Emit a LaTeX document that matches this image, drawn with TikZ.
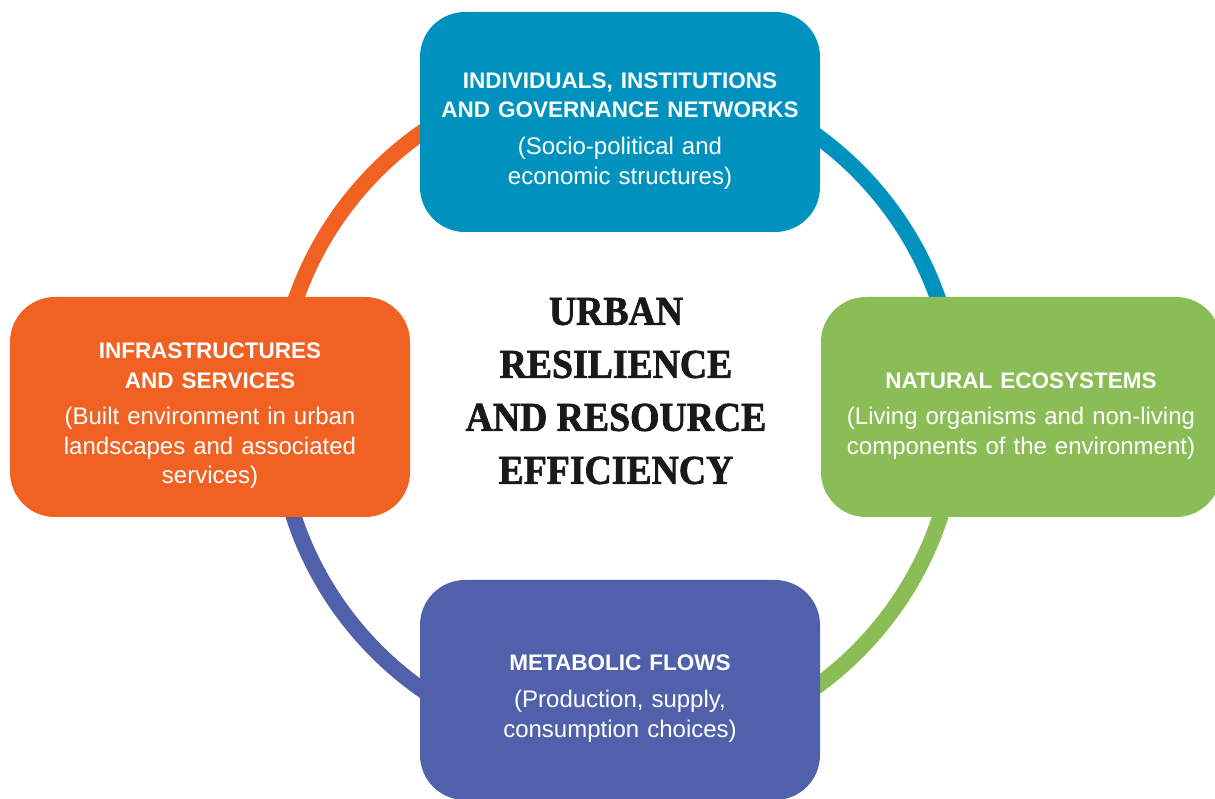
\documentclass[tikz,border=0pt]{standalone}
\usepackage{fontspec}
\setmainfont{Liberation Sans}
\newfontfamily\titlefont[FakeStretch=0.92, BoldFeatures={FakeBold=1.6}]{Liberation Serif}

\definecolor{govblue}{RGB}{0,146,190}
\definecolor{infraorange}{RGB}{241,97,34}
\definecolor{natgreen}{RGB}{139,189,87}
\definecolor{flowpurple}{RGB}{81,96,171}

\newcommand{\pillarhead}[1]{{\fontsize{22.5}{29.5}\selectfont\bfseries #1}}

\begin{document}
\begin{tikzpicture}[x=1pt, y=1pt,
  pillar/.style={rounded corners=45pt, text width=400pt, minimum height=220pt,
    inner sep=0pt, text=white, align=center,
    font=\fontsize{24}{29.5}\selectfont,
    execute at begin node={\rule{0pt}{33pt}}},
  ring/.style={line width=16pt}]
  \useasboundingbox (0,0) rectangle (1215,798);

  % the ring, one quarter per colour
  \coordinate (c) at (617,387);
  \draw[ring, govblue] ([shift={(0:340)}]c) arc [start angle=0, end angle=90, radius=340];
  \draw[ring, infraorange] ([shift={(90:340)}]c) arc [start angle=90, end angle=180, radius=340];
  \draw[ring, flowpurple] ([shift={(180:340)}]c) arc [start angle=180, end angle=270, radius=340];
  \draw[ring, natgreen] ([shift={(270:340)}]c) arc [start angle=270, end angle=360, radius=340];

  \node[pillar, fill=govblue] (gov) at (620,676)
    {\pillarhead{INDIVIDUALS, INSTITUTIONS\\AND GOVERNANCE NETWORKS}\\[7.5pt]
     (Socio-political and\\economic structures)};
  \node[pillar, fill=infraorange] (infra) at (210,391)
    {\pillarhead{INFRASTRUCTURES\\AND SERVICES}\\[7pt]
     (Built environment in urban\\landscapes and associated\\services)};
  \node[pillar, fill=natgreen] (nature) at (1021,391)
    {\pillarhead{NATURAL ECOSYSTEMS}\\[7pt]
     (Living organisms and non-living\\components of the environment)};
  \node[pillar, fill=flowpurple] (flows) at (620,108)
    {\pillarhead{METABOLIC FLOWS}\\[7.5pt]
     (Production, supply,\\consumption choices)};

  \node[align=center, text=black!90,
    font=\titlefont\bfseries\fontsize{41}{53}\selectfont] (core) at (616,407)
    {URBAN\\RESILIENCE\\AND RESOURCE\\EFFICIENCY};
\end{tikzpicture}
\end{document}
